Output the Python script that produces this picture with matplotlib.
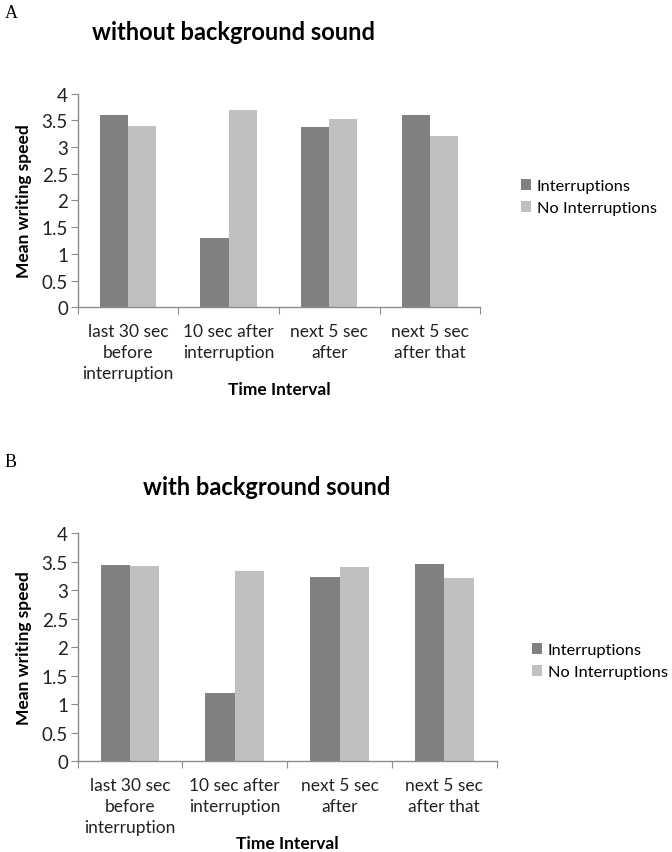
import matplotlib
matplotlib.use("Agg")
import matplotlib.pyplot as plt
import numpy as np

categories = ["last 30 sec\nbefore\ninterruption", "10 sec after\ninterruption",
              "next 5 sec\nafter", "next 5 sec\nafter that"]
series_names = ["Interruptions", "No Interruptions"]

# panel A: without background sound
a_interruptions = [3.61, 1.30, 3.38, 3.60]
a_no_interruptions = [3.39, 3.69, 3.52, 3.21]

# panel B: with background sound
b_interruptions = [3.45, 1.19, 3.24, 3.46]
b_no_interruptions = [3.42, 3.34, 3.41, 3.21]

y_ticks = [0, 0.5, 1, 1.5, 2, 2.5, 3, 3.5, 4]
y_tick_labels = ["0", "0.5", "1", "1.5", "2", "2.5", "3", "3.5", "4"]

DARK = "#808080"
LIGHT = "#c0c0c0"
AXIS = "#8c8c8c"
FONT = "Lato"

plt.rcParams['font.family'] = [FONT, 'DejaVu Sans']

fig = plt.figure(figsize=(6.72, 8.53), dpi=100)


def draw_panel(rect, vals1, vals2, title, letter, title_xy, letter_xy, legend_xy):
    ax = fig.add_axes(rect)
    x = np.arange(len(categories)) + 0.5
    w = 0.28
    ax.bar(x - w / 2, vals1, w, color=DARK, label=series_names[0])
    ax.bar(x + w / 2, vals2, w, color=LIGHT, label=series_names[1])
    ax.set_xlim(0, 4)
    ax.set_ylim(0, 4)
    for s in ['top', 'right']:
        ax.spines[s].set_visible(False)
    for s in ['left', 'bottom']:
        ax.spines[s].set_color(AXIS)
        ax.spines[s].set_linewidth(1.0)
    ax.set_yticks(y_ticks)
    ax.set_yticklabels(y_tick_labels, fontsize=13.5, color="#222222")
    ax.tick_params(axis='y', length=5, color=AXIS, pad=2)
    ax.set_xticks(np.arange(0, 5))
    ax.set_xticklabels([])
    ax.tick_params(axis='x', which='major', length=5, color=AXIS)
    ax.set_xticks(x, minor=True)
    ax.set_xticklabels(categories, minor=True, fontsize=12.5, color="#222222",
                       linespacing=1.4, va='top')
    ax.tick_params(axis='x', which='minor', length=0, pad=11)
    ax.set_xlabel("Time Interval", fontsize=12.5, fontweight='bold', labelpad=0)
    ax.set_ylabel("Mean writing speed", fontsize=12.5, fontweight='bold', labelpad=7)
    fig.text(title_xy[0], title_xy[1], title, fontsize=17, fontweight='bold',
             ha='left', va='center')
    fig.text(letter_xy[0], letter_xy[1], letter, fontsize=13,
             family='Liberation Serif', ha='left', va='center')
    ax.legend(loc='center left', bbox_to_anchor=legend_xy, bbox_transform=fig.transFigure,
              frameon=False, fontsize=11.8, handlelength=0.65, handleheight=0.65,
              handletextpad=0.35, labelspacing=0.45, borderaxespad=0)
    return ax


draw_panel([0.1156, 0.6386, 0.599, 0.2504], a_interruptions, a_no_interruptions,
           "without background sound", "A",
           (92 / 672, 1 - 33 / 853), (5 / 672, 1 - 13 / 853), (514 / 672, 1 - 198 / 853))
draw_panel([0.1156, 0.1063, 0.6235, 0.2673], b_interruptions, b_no_interruptions,
           "with background sound", "B",
           (143 / 672, 1 - 488 / 853), (5 / 672, 1 - 463 / 853), (525 / 672, 1 - 662 / 853))

fig.savefig("out.png", dpi=100, facecolor="white")
